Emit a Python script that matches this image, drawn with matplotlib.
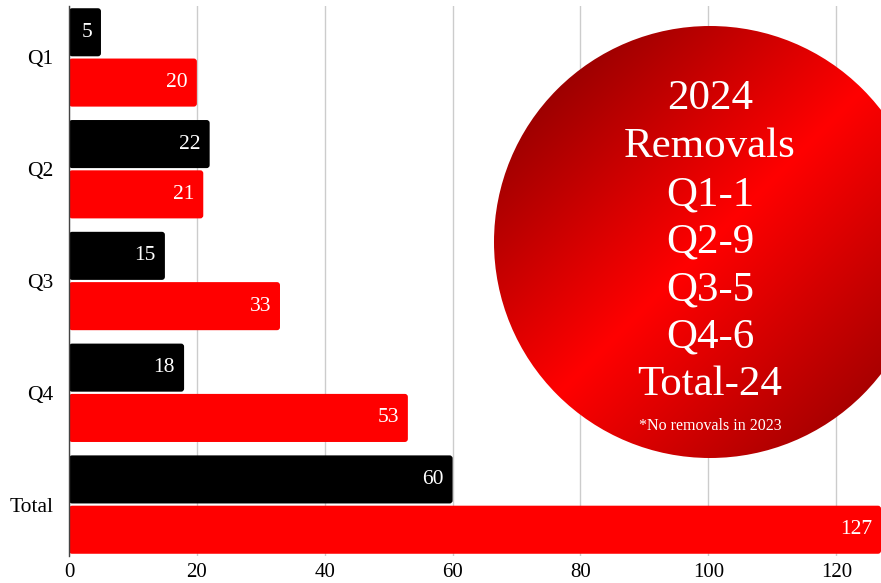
import numpy as np
import matplotlib
matplotlib.use("Agg")
import matplotlib.pyplot as plt
from matplotlib.patches import FancyBboxPatch, Circle
from matplotlib.colors import LinearSegmentedColormap

categories = ["Q1", "Q2", "Q3", "Q4", "Total"]
black_vals = [5, 22, 15, 18, 60]
red_vals = [20, 21, 33, 53, 127]
x_ticks = [0, 20, 40, 60, 80, 100, 120]
circle_lines = ["2024", "Removals", "Q1-1", "Q2-9", "Q3-5", "Q4-6", "Total-24"]
circle_note = "*No removals in 2023"

W, H = 881, 583
fig = plt.figure(figsize=(W / 100, H / 100), dpi=100)
ax_left, ax_right, ax_top, ax_bot = 69, 881, 6, 556
ax = fig.add_axes([ax_left / W, (H - ax_bot) / H, (ax_right - ax_left) / W, (ax_bot - ax_top) / H])

serif = ["Liberation Serif", "DejaVu Serif"]
y = np.arange(len(categories))
bh = 0.43
off = 0.225
ylo, yhi = -0.46, 4.46
ax.set_xlim(0, 127)
ax.set_ylim(yhi, ylo)

bars_b = ax.barh(y - off, black_vals, height=bh, color="black")
bars_r = ax.barh(y + off, red_vals, height=bh, color="#ff0000")

# convert to rounded bars
xpx = (ax_right - ax_left) / 127.0
ypx = (ax_bot - ax_top) / (yhi - ylo)
r_px = 3
for bars in (bars_b, bars_r):
    for p in bars:
        x0, y0 = p.get_x(), p.get_y()
        w, h = p.get_width(), p.get_height()
        fb = FancyBboxPatch((x0, y0), w, h,
                            boxstyle=f"round,pad=0,rounding_size={r_px / xpx}",
                            mutation_aspect=xpx / ypx,
                            facecolor=p.get_facecolor(), edgecolor="none", zorder=3)
        p.set_visible(False)
        ax.add_patch(fb)

for vals, ys in ((black_vals, y - off), (red_vals, y + off)):
    for v, yy in zip(vals, ys):
        ax.annotate(str(v), (v, yy), xytext=(-6.5, 0), textcoords="offset points",
                    ha="right", va="center", color="white", fontsize=15.5,
                    family=serif, zorder=5)

ax.set_xticks(x_ticks)
ax.set_yticks(y)
ax.set_yticklabels(categories, family=serif, fontsize=15.5)
for lab in ax.get_xticklabels():
    lab.set_family(serif)
    lab.set_fontsize(15)
ax.tick_params(axis="x", length=0, pad=5)
ax.tick_params(axis="y", length=0, pad=11)
ax.grid(axis="x", color="#cccccc", linewidth=1, zorder=0)
ax.set_axisbelow(True)
for s in ("top", "right", "bottom"):
    ax.spines[s].set_visible(False)
ax.spines["left"].set_color("#444444")
ax.spines["left"].set_linewidth(1)
ax.spines["left"].set_zorder(6)

# gradient circle in figure pixel space
cax = fig.add_axes([0, 0, 1, 1], facecolor="none")
cax.set_xlim(0, W)
cax.set_ylim(H, 0)
cax.axis("off")
cx, cy, rad = 710, 242, 216
cmap = LinearSegmentedColormap.from_list(
    "rg", [(0.0, "#9c0000"), (0.5, "#ff0000"), (1.0, "#a80000")])
n = 300
gx, gy = np.meshgrid(np.linspace(-1, 1, n), np.linspace(-1, 1, n))
t = (gx + gy) / 2.0
t = np.clip((t / 0.72 + 1) / 2.0, 0, 1)
im = cax.imshow(t, cmap=cmap, extent=[cx - rad, cx + rad, cy + rad, cy - rad],
                origin="upper", zorder=2, interpolation="bilinear")
clip = Circle((cx, cy), rad, transform=cax.transData)
im.set_clip_path(clip)

line_y = [99, 147, 195, 242, 290, 337, 385]
for txt, ly in zip(circle_lines, line_y):
    cax.text(cx, ly, txt, ha="center", va="center", color="white",
             fontsize=31, family=serif, zorder=4)
cax.text(cx, 426, circle_note, ha="center", va="center", color="white",
         fontsize=11.5, family=serif, zorder=4)

fig.savefig("out.png", dpi=100)
